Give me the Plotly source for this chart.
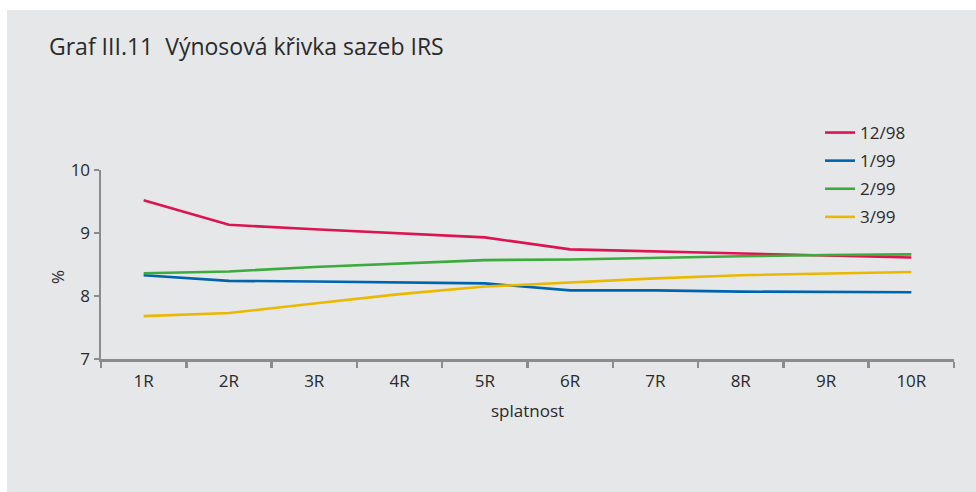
import plotly.graph_objects as go

categories = ["1R", "2R", "3R", "4R", "5R", "6R", "7R", "8R", "9R", "10R"]
s_12_98 = [9.52, 9.13, 9.06, 9.00, 8.93, 8.74, 8.71, 8.67, 8.64, 8.61]
s_1_99 = [8.33, 8.24, 8.23, 8.22, 8.20, 8.09, 8.09, 8.07, 8.06, 8.06]
s_2_99 = [8.36, 8.39, 8.46, 8.51, 8.57, 8.58, 8.61, 8.63, 8.65, 8.66]
s_3_99 = [7.68, 7.73, 7.88, 8.03, 8.15, 8.22, 8.28, 8.33, 8.35, 8.38]
series_names = ["12/98", "1/99", "2/99", "3/99"]
series_colors = ["#dc1450", "#0064ad", "#3caa3c", "#ebb800"]
y_ticks = [7, 8, 9, 10]

FONT = "Open Sans"
TXT = "#2a2a2a"
AX = "#8c8c8c"
PANEL = "#e6e7e9"

fig = go.Figure()
for name, vals, col in zip(series_names, [s_12_98, s_1_99, s_2_99, s_3_99], series_colors):
    fig.add_trace(go.Scatter(
        x=categories, y=vals, mode="lines", name=name, legendgroup=name,
        line=dict(color=col, width=2.6), hoverinfo="skip",
    ))

W, H = 976, 492
L, R, T, B = 101, 22, 170, 133
pw, ph = W - L - R, H - T - B

def px_x(p):
    return (p - L) / pw

def px_y(p):
    return (H - B - p) / ph

fig.update_layout(
    width=W, height=H,
    margin=dict(l=L, r=R, t=T, b=B, pad=0),
    paper_bgcolor=PANEL,
    plot_bgcolor="rgba(0,0,0,0)",
    font=dict(family=FONT, size=17, color=TXT),
    showlegend=True,
    legend=dict(
        x=px_x(820), y=px_y(115), xanchor="left", yanchor="top",
        bgcolor="rgba(0,0,0,0)", font=dict(size=17, color=TXT),
        tracegroupgap=3, itemwidth=30,
    ),
    xaxis=dict(
        type="category", range=[-0.5, 9.5], tickson="boundaries",
        showgrid=False, zeroline=False, showline=True, linecolor=AX, linewidth=2.5,
        ticks="outside", ticklen=6, tickwidth=2.5, tickcolor=AX,
        ticklabelstandoff=5,
        tickfont=dict(size=17, color=TXT), fixedrange=True,
    ),
    yaxis=dict(
        range=[7, 10], tickvals=y_ticks, showgrid=False, zeroline=False,
        showline=True, linecolor=AX, linewidth=2.5,
        ticks="outside", ticklen=5, tickwidth=2.5, tickcolor=AX,
        tickfont=dict(size=17, color=TXT), fixedrange=True,
    ),
    shapes=[
        dict(type="rect", xref="paper", yref="paper", layer="below",
             x0=px_x(-5), x1=px_x(7), y0=px_y(500), y1=px_y(-5),
             fillcolor="white", line=dict(width=0)),
        dict(type="rect", xref="paper", yref="paper", layer="below",
             x0=px_x(-5), x1=px_x(985), y0=px_y(10), y1=px_y(-5),
             fillcolor="white", line=dict(width=0)),
    ],
    annotations=[
        dict(text="Graf III.11  Výnosová křivka sazeb IRS", xref="paper", yref="paper",
             x=px_x(47), y=px_y(46), xanchor="left", yanchor="middle", showarrow=False,
             font=dict(size=23, color=TXT, family=FONT)),
        dict(text="%", xref="paper", yref="paper", textangle=-90,
             x=px_x(57), y=px_y(277), xanchor="center", yanchor="middle", showarrow=False,
             font=dict(size=17, color=TXT, family=FONT)),
        dict(text="splatnost", xref="paper", yref="paper",
             x=0.5, y=px_y(410), xanchor="center", yanchor="middle", showarrow=False,
             font=dict(size=17, color=TXT, family=FONT)),
    ],
)

fig.write_html(
    "out.html",
    config={"displayModeBar": False, "staticPlot": True},
    post_script="document.body.style.margin='0';document.body.style.overflow='hidden';"
                "document.body.style.background='%s';" % PANEL,
)
